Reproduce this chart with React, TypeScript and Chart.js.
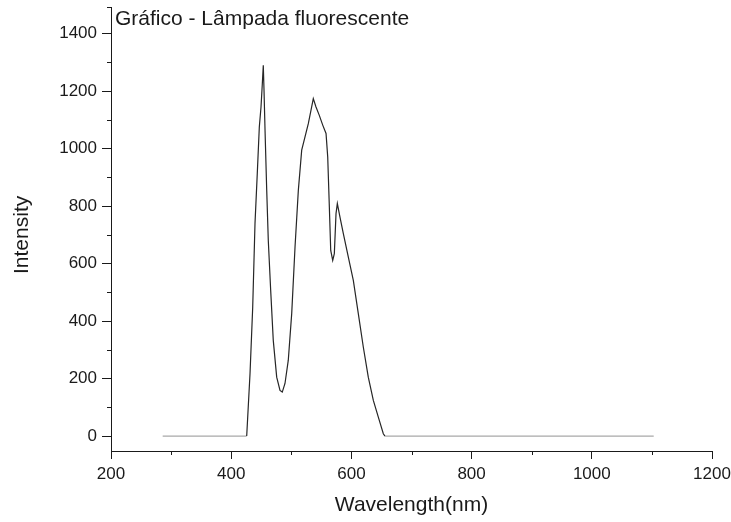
import { useEffect, useRef } from "react";
import { Chart, registerables } from "chart.js";

Chart.register(...registerables);

// Emission spectrum of a fluorescent lamp
const wavelengthNm = [
  286, 425.8, 431.3, 435.8, 439.6, 443.4, 446.8, 449.6, 451.8, 453.4, 454.6,
  456.3, 459.1, 461.7, 465.7, 470, 475.7, 481.2, 485, 489.5, 495, 500.7, 506.2,
  511.7, 517.3, 522.8, 528.3, 532.8, 536.6, 541.1, 546.6, 552.3, 557.8, 560.6,
  563.3, 565.6, 568.9, 571.6, 574.4, 576.6, 581, 586.5, 594.9, 603.2, 611.5,
  619.8, 628.1, 636.5, 644.8, 653.1, 655.9, 1103,
];
const intensity = [
  0, 0, 217, 449, 740, 914, 1076, 1145, 1227, 1290, 1203, 1064, 855, 681, 507,
  333, 205, 159, 153, 183, 264, 427, 658, 855, 995, 1041, 1087, 1134, 1174,
  1145, 1116, 1082, 1053, 971, 797, 646, 611, 635, 774, 809, 762, 705, 623, 542,
  426, 310, 205, 124, 66, 8, 0, 0,
];

const xTickValues = [200, 400, 600, 800, 1000, 1200];
const yTickValues = [0, 200, 400, 600, 800, 1000, 1200, 1400];
const xMinorTicks = [300, 500, 700, 900, 1100];
const yMinorTicks = [100, 300, 500, 700, 900, 1100, 1300];

const chartTitle = "Gráfico - Lâmpada fluorescente";
const xTitle = "Wavelength(nm)";
const yTitle = "Intensity";

const FONT = '"Liberation Sans", Arial, Helvetica, sans-serif';
const AXIS = "#1a1a1a";
const TEXT = "#1a1a1a";
const LINE_DARK = "#262626";
const LINE_BASE = "#a8a8a8";

const decorations = {
  id: "decorations",
  afterDraw(chart: any) {
    const { ctx, chartArea, scales } = chart;
    const xs = scales.x;
    const ys = scales.y;
    ctx.save();
    ctx.strokeStyle = AXIS;
    ctx.lineWidth = 1;
    ctx.beginPath();
    for (const v of xMinorTicks) {
      const px = Math.round(xs.getPixelForValue(v)) + 0.5;
      ctx.moveTo(px, chartArea.bottom);
      ctx.lineTo(px, chartArea.bottom + 4);
    }
    for (const v of yMinorTicks) {
      const py = Math.round(ys.getPixelForValue(v)) + 0.5;
      ctx.moveTo(chartArea.left, py);
      ctx.lineTo(chartArea.left - 4, py);
    }
    // end cap at the top of the y axis
    const topY = Math.round(chartArea.top) + 0.5;
    ctx.moveTo(chartArea.left, topY);
    ctx.lineTo(chartArea.left - 4, topY);
    ctx.stroke();

    // chart title inside the plot area
    ctx.fillStyle = TEXT;
    ctx.font = `21px ${FONT}`;
    ctx.textAlign = "left";
    ctx.textBaseline = "alphabetic";
    ctx.fillText(chartTitle, chartArea.left + 4, chartArea.top + 18);

    // y axis title, centred on the labelled tick range
    const midY = (ys.getPixelForValue(0) + ys.getPixelForValue(1400)) / 2;
    ctx.translate(28, midY);
    ctx.rotate(-Math.PI / 2);
    ctx.textAlign = "center";
    ctx.fillText(yTitle, 0, 0);
    ctx.restore();
  },
};

export default function App() {
  const canvasRef = useRef<HTMLCanvasElement | null>(null);

  useEffect(() => {
    if (!canvasRef.current) return;
    const points = wavelengthNm.map((x, i) => ({ x, y: intensity[i] }));
    const chart = new Chart(canvasRef.current, {
      type: "line",
      data: {
        datasets: [
          {
            data: points,
            borderColor: LINE_DARK,
            borderWidth: 1.2,
            pointRadius: 0,
            tension: 0,
            segment: {
              borderColor: (c: any) =>
                c.p0.parsed.y === 0 && c.p1.parsed.y === 0 ? LINE_BASE : LINE_DARK,
            },
          },
        ],
      },
      options: {
        animation: false,
        responsive: true,
        maintainAspectRatio: false,
        layout: { padding: { left: 0, right: 19, top: 7, bottom: 0 } },
        plugins: {
          legend: { display: false },
          tooltip: { enabled: false },
          title: { display: false },
        },
        scales: {
          x: {
            type: "linear",
            min: 200,
            max: 1200,
            afterFit: (s: any) => {
              s.height = 71;
              s.paddingLeft = 0;
              s.paddingRight = 0;
            },
            afterBuildTicks: (s: any) => {
              s.ticks = xTickValues.map((value) => ({ value }));
            },
            ticks: {
              color: TEXT,
              font: { family: FONT, size: 17 },
              padding: 5,
              maxRotation: 0,
              autoSkip: false,
              callback: (v: any) => String(v),
            },
            grid: {
              drawOnChartArea: false,
              drawTicks: true,
              tickLength: 8,
              tickColor: AXIS,
            },
            border: { display: true, color: AXIS, width: 1 },
            title: {
              display: true,
              text: xTitle,
              color: TEXT,
              font: { family: FONT, size: 21 },
              padding: { top: 0, bottom: 4 },
            },
          },
          y: {
            type: "linear",
            min: -52,
            max: 1493,
            afterFit: (s: any) => {
              s.width = 111;
              s.paddingTop = 0;
              s.paddingBottom = 0;
            },
            afterBuildTicks: (s: any) => {
              s.ticks = yTickValues.map((value) => ({ value }));
            },
            ticks: {
              color: TEXT,
              font: { family: FONT, size: 17 },
              padding: 5,
              autoSkip: false,
              callback: (v: any) => String(v),
            },
            grid: {
              drawOnChartArea: false,
              drawTicks: true,
              tickLength: 9,
              tickColor: AXIS,
            },
            border: { display: true, color: AXIS, width: 1 },
          },
        },
      },
      plugins: [decorations],
    });
    return () => chart.destroy();
  }, []);

  return (
    <div style={{ position: "absolute", left: 0, top: 0, width: 731, height: 522, background: "#fff" }}>
      <canvas ref={canvasRef} />
    </div>
  );
}
